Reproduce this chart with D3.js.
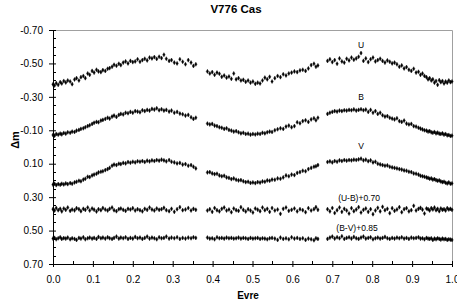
<!DOCTYPE html>
<html><head><meta charset="utf-8">
<script src="https://cdn.jsdelivr.net/npm/d3@7/dist/d3.min.js"></script>
<style>
html,body{margin:0;padding:0;background:#fff;}
svg{display:block;font-family:"Liberation Sans",Arial,sans-serif;}
</style></head>
<body>
<svg id="c" width="457" height="303"></svg>
<script>
// ---- data ----
const title = "V776 Cas";
const xLabel = "Evre";
const yLabel = "\u0394m";
const xTicks = [0,0.1,0.2,0.3,0.4,0.5,0.6,0.7,0.8,0.9,1.0];
const yTicks = [-0.70,-0.50,-0.30,-0.10,0.10,0.30,0.50,0.70];
const seriesNames = ["U","B","V","(U-B)+0.70","(B-V)+0.85"];

const phase = [
0.000,0.004,0.008,0.013,0.018,0.022,0.027,0.032,0.037,0.043,0.048,0.054,0.059,0.065,0.070,0.076,0.081,0.087,0.092,0.098,
0.103,0.109,0.114,0.120,0.125,0.131,0.137,0.142,0.148,0.153,0.159,0.165,0.170,0.176,0.182,0.188,0.194,0.200,0.206,0.212,
0.218,0.224,0.230,0.236,0.242,0.248,0.254,0.260,0.266,0.272,0.278,0.284,0.291,0.297,0.304,0.311,0.318,0.325,0.332,0.339,
0.346,0.352,0.358,
0.387,0.393,0.399,0.405,0.411,0.417,0.423,0.429,0.435,0.441,0.447,0.453,0.459,0.465,0.471,0.477,0.483,0.489,0.495,0.501,
0.507,0.513,0.519,0.525,0.531,0.537,0.543,0.549,0.556,0.563,0.570,0.577,0.584,0.591,0.598,0.605,0.612,0.619,0.626,0.633,
0.640,0.647,0.654,0.659,0.664,
0.688,0.694,0.700,0.706,0.712,0.718,0.724,0.730,0.736,0.742,0.748,0.754,0.760,0.766,0.772,0.778,0.784,0.790,0.796,0.802,
0.808,0.814,0.820,0.826,0.832,0.838,0.844,0.850,0.856,0.862,0.868,0.874,0.880,0.886,0.892,0.898,0.904,0.910,0.916,0.921,
0.926,0.931,0.936,0.940,0.944,0.948,0.952,0.956,0.960,0.964,0.968,0.972,0.976,0.980,0.984,0.988,0.992,0.996,1.000
];

const U = [
-0.375,-0.368,-0.382,-0.372,-0.388,-0.380,-0.395,-0.386,-0.398,-0.392,-0.376,-0.404,-0.412,-0.398,-0.418,-0.425,-0.412,-0.440,-0.432,-0.455,
-0.445,-0.462,-0.452,-0.448,-0.460,-0.455,-0.468,-0.472,-0.480,-0.492,-0.486,-0.498,-0.490,-0.505,-0.512,-0.500,-0.515,-0.508,-0.512,-0.525,
-0.510,-0.520,-0.528,-0.518,-0.535,-0.530,-0.538,-0.527,-0.540,-0.532,-0.552,-0.528,-0.515,-0.520,-0.505,-0.500,-0.525,-0.510,-0.495,-0.520,
-0.505,-0.485,-0.495,
-0.452,-0.440,-0.448,-0.432,-0.445,-0.438,-0.420,-0.428,-0.415,-0.422,-0.408,-0.440,-0.405,-0.412,-0.398,-0.402,-0.390,-0.398,-0.385,-0.392,
-0.378,-0.385,-0.380,-0.398,-0.415,-0.405,-0.420,-0.392,-0.412,-0.425,-0.418,-0.435,-0.428,-0.440,-0.445,-0.452,-0.448,-0.458,-0.462,-0.455,
-0.470,-0.490,-0.498,-0.480,-0.488,
-0.515,-0.525,-0.508,-0.520,-0.498,-0.530,-0.512,-0.505,-0.528,-0.518,-0.535,-0.522,-0.530,-0.540,-0.562,-0.515,-0.530,-0.508,-0.525,-0.535,
-0.512,-0.520,-0.528,-0.515,-0.505,-0.518,-0.510,-0.500,-0.505,-0.495,-0.480,-0.488,-0.470,-0.478,-0.462,-0.455,-0.468,-0.445,-0.450,-0.432,
-0.440,-0.425,-0.418,-0.405,-0.412,-0.398,-0.405,-0.385,-0.395,-0.372,-0.400,-0.388,-0.395,-0.380,-0.392,-0.385,-0.398,-0.388,-0.392
];

const B = [
-0.072,-0.068,-0.078,-0.074,-0.080,-0.076,-0.084,-0.080,-0.088,-0.085,-0.092,-0.090,-0.098,-0.102,-0.108,-0.112,-0.118,-0.125,-0.130,-0.138,
-0.145,-0.150,-0.148,-0.158,-0.162,-0.168,-0.175,-0.170,-0.182,-0.188,-0.180,-0.192,-0.198,-0.195,-0.205,-0.202,-0.210,-0.205,-0.215,-0.212,
-0.208,-0.220,-0.215,-0.222,-0.218,-0.228,-0.224,-0.232,-0.220,-0.226,-0.218,-0.222,-0.212,-0.218,-0.205,-0.210,-0.200,-0.196,-0.188,-0.192,
-0.178,-0.168,-0.175,
-0.140,-0.135,-0.138,-0.128,-0.125,-0.118,-0.115,-0.108,-0.112,-0.102,-0.098,-0.092,-0.095,-0.088,-0.082,-0.085,-0.078,-0.080,-0.074,-0.078,
-0.075,-0.080,-0.078,-0.085,-0.082,-0.088,-0.092,-0.090,-0.100,-0.106,-0.112,-0.108,-0.122,-0.128,-0.118,-0.125,-0.148,-0.142,-0.155,-0.160,
-0.150,-0.165,-0.172,-0.160,-0.175,
-0.198,-0.205,-0.210,-0.215,-0.212,-0.218,-0.215,-0.220,-0.218,-0.222,-0.220,-0.225,-0.218,-0.222,-0.226,-0.220,-0.224,-0.210,-0.222,-0.205,
-0.215,-0.198,-0.205,-0.190,-0.182,-0.185,-0.175,-0.170,-0.165,-0.172,-0.155,-0.150,-0.158,-0.140,-0.135,-0.138,-0.125,-0.122,-0.115,-0.110,
-0.105,-0.100,-0.098,-0.092,-0.095,-0.088,-0.085,-0.090,-0.082,-0.086,-0.080,-0.078,-0.082,-0.074,-0.078,-0.070,-0.072,-0.066,-0.068
];

const V = [
0.225,0.220,0.228,0.222,0.226,0.220,0.224,0.218,0.222,0.216,0.220,0.212,0.208,0.202,0.205,0.195,0.190,0.178,0.180,0.170,
0.165,0.160,0.152,0.148,0.145,0.138,0.132,0.125,0.112,0.105,0.108,0.100,0.102,0.095,0.098,0.090,0.094,0.088,0.092,0.085,
0.088,0.084,0.090,0.082,0.086,0.080,0.084,0.078,0.082,0.076,0.080,0.086,0.078,0.088,0.092,0.098,0.095,0.105,0.102,0.112,
0.108,0.118,0.128,
0.152,0.150,0.158,0.162,0.160,0.170,0.175,0.172,0.182,0.185,0.192,0.188,0.196,0.200,0.198,0.205,0.210,0.208,0.215,0.212,
0.216,0.210,0.213,0.206,0.208,0.200,0.202,0.195,0.196,0.188,0.190,0.182,0.170,0.175,0.165,0.168,0.155,0.150,0.142,0.145,
0.132,0.125,0.118,0.115,0.108,
0.090,0.086,0.092,0.084,0.088,0.080,0.084,0.078,0.082,0.078,0.080,0.076,0.078,0.074,0.070,0.080,0.076,0.085,0.080,0.092,
0.088,0.100,0.104,0.108,0.112,0.110,0.118,0.122,0.125,0.128,0.132,0.135,0.140,0.142,0.148,0.150,0.158,0.160,0.165,0.172,
0.175,0.178,0.182,0.185,0.190,0.188,0.195,0.192,0.198,0.202,0.200,0.206,0.210,0.208,0.214,0.218,0.212,0.220,0.218
];

const UB = [
0.372,0.380,0.365,0.378,0.370,0.385,0.368,0.376,0.362,0.382,0.374,0.379,0.366,0.372,0.384,0.370,0.376,0.362,0.380,0.368,
0.375,0.386,0.372,0.378,0.365,0.374,0.380,0.370,0.362,0.378,0.384,0.372,0.368,0.376,0.382,0.370,0.374,0.366,0.380,0.372,
0.378,0.385,0.370,0.376,0.362,0.374,0.380,0.368,0.376,0.372,0.364,0.378,0.384,0.370,0.388,0.372,0.360,0.378,0.374,0.365,
0.380,0.370,0.376,
0.380,0.372,0.388,0.365,0.378,0.385,0.370,0.362,0.380,0.374,0.390,0.368,0.378,0.382,0.360,0.376,0.386,0.372,0.380,0.392,
0.368,0.375,0.384,0.362,0.378,0.370,0.388,0.365,0.380,0.374,0.400,0.370,0.362,0.382,0.376,0.368,0.385,0.372,0.378,0.390,
0.366,0.380,0.372,0.360,0.376,
0.372,0.385,0.365,0.395,0.378,0.362,0.388,0.370,0.380,0.398,0.366,0.384,0.374,0.360,0.392,0.376,0.368,0.388,0.372,0.402,
0.380,0.364,0.385,0.358,0.378,0.370,0.396,0.366,0.382,0.374,0.360,0.390,0.372,0.366,0.385,0.378,0.352,0.380,0.370,0.364,
0.375,0.398,0.368,0.372,0.380,0.366,0.374,0.362,0.378,0.370,0.384,0.368,0.376,0.372,0.380,0.366,0.374,0.370,0.376
];

const BV = [
0.548,0.544,0.552,0.546,0.540,0.550,0.545,0.548,0.542,0.552,0.546,0.550,0.556,0.544,0.548,0.540,0.552,0.546,0.542,0.548,
0.544,0.550,0.538,0.546,0.542,0.548,0.540,0.546,0.550,0.544,0.536,0.548,0.542,0.546,0.540,0.550,0.544,0.548,0.538,0.546,
0.542,0.550,0.544,0.536,0.548,0.542,0.546,0.552,0.540,0.546,0.544,0.536,0.548,0.542,0.546,0.540,0.550,0.544,0.548,0.542,
0.546,0.540,0.544,
0.542,0.548,0.546,0.552,0.540,0.546,0.544,0.548,0.542,0.546,0.544,0.548,0.546,0.542,0.548,0.544,0.546,0.550,0.544,0.548,
0.546,0.544,0.550,0.546,0.548,0.552,0.546,0.544,0.548,0.556,0.542,0.550,0.546,0.552,0.540,0.548,0.544,0.550,0.546,0.556,
0.548,0.552,0.558,0.546,0.550,
0.550,0.542,0.536,0.548,0.540,0.546,0.534,0.550,0.544,0.540,0.548,0.538,0.546,0.550,0.542,0.536,0.548,0.544,0.540,0.552,
0.546,0.542,0.548,0.544,0.538,0.546,0.550,0.544,0.548,0.542,0.546,0.540,0.548,0.544,0.550,0.542,0.546,0.544,0.540,0.548,
0.546,0.552,0.544,0.548,0.550,0.546,0.556,0.548,0.552,0.546,0.550,0.554,0.548,0.552,0.550,0.556,0.552,0.554,0.556
];

// label anchor values (data units, text baseline) for series names
const labelPhase = [0.772,0.772,0.772,0.767,0.762];
const labelValue = [-0.592,-0.281,0.012,0.323,0.503];

// ---- drawing ----
const svg = d3.select("#c");
const M = {l:53, r:452, t:30, b:264};
const x = d3.scaleLinear().domain([0,1]).range([M.l, M.r]);
const y = d3.scaleLinear().domain([-0.7,0.7]).range([M.t, M.b]);
const fmtY = v => d3.format(".2f")(v).replace("\u2212","-");

// plot frame (grey top/right)
svg.append("path")
  .attr("d", `M${x(0)},${y(-0.7)+0.5}H${x(1)+0.5}V${y(0.7)}`)
  .attr("fill","none").attr("stroke","#a0a0a0").attr("stroke-width",1);

// minor ticks
const yMinor = d3.range(-0.65, 0.7, 0.05).filter(v => Math.abs(Math.round(v*100)) % 20 !== 10);
svg.append("g").selectAll("line").data(yMinor).join("line")
  .attr("x1", x(0)).attr("x2", x(0)+3).attr("y1", d=>Math.round(y(d))+0.5).attr("y2", d=>Math.round(y(d))+0.5)
  .attr("stroke","#000");
const xMinor = d3.range(0.05, 1, 0.1);
svg.append("g").selectAll("line").data(xMinor).join("line")
  .attr("y1", y(0.7)).attr("y2", y(0.7)-3).attr("x1", d=>Math.round(x(d))+0.5).attr("x2", d=>Math.round(x(d))+0.5)
  .attr("stroke","#000");

// y axis
const gy = svg.append("g").attr("transform",`translate(${x(0)},0)`)
  .call(d3.axisLeft(y).tickValues(yTicks).tickFormat(fmtY).tickSizeInner(4).tickSizeOuter(0).tickPadding(6));
gy.select(".domain").attr("stroke","#000");
gy.selectAll(".tick line").attr("x1",3).attr("x2",-4);
gy.selectAll(".tick text").attr("font-size","10px").attr("fill","#000").attr("font-family","Liberation Sans, Arial, sans-serif");

// x axis
const gx = svg.append("g").attr("transform",`translate(0,${y(0.7)})`)
  .call(d3.axisBottom(x).tickValues(xTicks).tickFormat(d3.format(".1f")).tickSizeInner(3).tickSizeOuter(0).tickPadding(9));
gx.select(".domain").attr("stroke","#000");
gx.selectAll(".tick line").attr("y1",-3).attr("y2",3);
gx.selectAll(".tick text").attr("font-size","10px").attr("fill","#000").attr("font-family","Liberation Sans, Arial, sans-serif");

// points
const sym = d3.symbol().type(d3.symbolDiamond).size(5)();
const all = [U,B,V,UB,BV];
all.forEach(vals => {
  const pts = phase.map((p,i)=>[p, vals[i]]).filter(d => d[1] !== undefined);
  svg.append("g").selectAll("path").data(pts).join("path")
    .attr("d", sym)
    .attr("transform", d => `translate(${x(d[0])},${y(d[1])})`)
    .attr("fill","#000").attr("stroke","#000").attr("stroke-width",0.4);
});

// series labels
svg.append("g").selectAll("text").data(seriesNames).join("text")
  .attr("x",(d,i)=>x(labelPhase[i])).attr("y",(d,i)=>y(labelValue[i]))
  .attr("text-anchor","middle").attr("font-size","8.5px").attr("fill","#000")
  .text(d=>d);

// title and axis labels
svg.append("text").attr("x",236).attr("y",13).attr("text-anchor","middle")
  .attr("font-size","11.5px").attr("font-weight","bold").text(title);
svg.append("text").attr("x",248).attr("y",299).attr("text-anchor","middle")
  .attr("font-size","10px").attr("font-weight","bold").text(xLabel);
svg.append("text").attr("transform","translate(19,140) rotate(-90)").attr("text-anchor","middle")
  .attr("font-size","11px").attr("font-weight","bold").text(yLabel);
</script>
</body></html>
